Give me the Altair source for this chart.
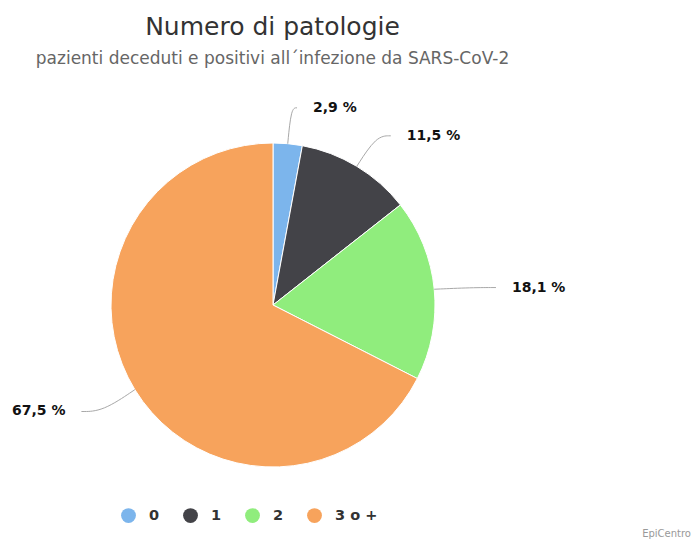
import altair as alt
import pandas as pd

categories = ["0", "1", "2", "3 o +"]
values = [2.9, 11.5, 18.1, 67.5]
colors = ["#7cb5ec", "#434348", "#90ed7d", "#f7a35c"]
title_text = "Numero di patologie"
subtitle_text = "pazienti deceduti e positivi all´infezione da SARS-CoV-2"
credit = ["EpiCentro"]

df = pd.DataFrame({"cat": categories, "val": values, "idx": list(range(len(categories)))})

W, H = 683, 451
CX, CY, R = 265, 217, 162
RB = 200   # radius where label connectors break
FONT = "DejaVu Sans"

base = alt.Chart(df)

pie = base.mark_arc(outerRadius=R, stroke="white", strokeWidth=1).encode(
    theta=alt.Theta("val:Q", stack=True),
    color=alt.Color(
        "cat:N",
        scale=alt.Scale(domain=categories, range=colors),
        legend=alt.Legend(
            title=None, orient="none", legendX=113, legendY=420,
            direction="horizontal", symbolType="circle", symbolSize=220,
            symbolStrokeWidth=0, symbolOpacity=1,
            labelFont=FONT, labelFontSize=14.5, labelFontWeight="bold",
            labelColor="#333333", labelOffset=13, columnPadding=23,
        ),
    ),
    order=alt.Order("idx:Q"),
    x=alt.value(CX),
    y=alt.value(CY),
)

geo = (
    base.transform_joinaggregate(total="sum(val)")
    .transform_window(cum="sum(val)", sort=[alt.SortField("idx")], frame=[None, 0])
    .transform_calculate(mid="(datum.cum - datum.val/2)/datum.total*2*PI")
    .transform_calculate(side="sin(datum.mid) >= 0 ? 1 : -1")
    .transform_calculate(ex=f"{CX} + {R}*sin(datum.mid)")
    .transform_calculate(ey=f"{CY} - {R}*cos(datum.mid)")
    .transform_calculate(bx=f"{CX} + {RB}*sin(datum.mid)")
    .transform_calculate(by=f"{CY} - {RB}*cos(datum.mid) + 2")
    .transform_calculate(lx="datum.bx + datum.side*(20 + 20*abs(sin(datum.mid)))")
    .transform_calculate(tx="datum.lx - datum.side*16")
    .transform_calculate(label="replace(format(datum.val, '.1f'), '.', ',') + ' %'")
)

conn = (
    geo.transform_calculate(k="[0,1,2]")
    .transform_flatten(["k"])
    .transform_calculate(px="datum.k == 0 ? datum.ex : (datum.k == 1 ? datum.bx : datum.tx)")
    .transform_calculate(py="datum.k == 0 ? datum.ey : datum.by")
    .mark_line(interpolate="basis", color="#a8a8a8", strokeWidth=1)
    .encode(
        x=alt.X("px:Q", scale=None),
        y=alt.Y("py:Q", scale=None),
        detail="cat:N",
        order="k:Q",
    )
)

lab_r = geo.transform_filter("datum.side > 0").mark_text(
    align="left", baseline="middle", font=FONT, fontSize=14, fontWeight="bold", color="#111111"
).encode(x=alt.X("lx:Q", scale=None), y=alt.Y("by:Q", scale=None), text="label:N")

lab_l = geo.transform_filter("datum.side < 0").mark_text(
    align="right", baseline="middle", font=FONT, fontSize=14, fontWeight="bold", color="#111111"
).encode(x=alt.X("lx:Q", scale=None), y=alt.Y("by:Q", scale=None), text="label:N")

cred = alt.Chart(pd.DataFrame({"t": credit})).mark_text(
    align="right", baseline="bottom", font=FONT, fontSize=10, color="#999999"
).encode(text="t:N", x=alt.value(W), y=alt.value(H))

chart = (
    alt.layer(pie, conn, lab_r, lab_l, cred)
    .properties(
        width=W,
        height=H,
        autosize=alt.AutoSizeParams(type="none"),
        padding={"left": 0, "top": 80, "right": 0, "bottom": 0},
        title=alt.TitleParams(
            title_text,
            subtitle=subtitle_text,
            font=FONT, fontSize=25, fontWeight="normal", color="#333333",
            subtitleFont=FONT, subtitleFontSize=17, subtitleColor="#666666",
            anchor="middle", frame="group", dx=-77, offset=21, subtitlePadding=11,
        ),
        background="white",
    )
    .configure_view(stroke=None)
)

chart.save("out.html", embed_options={"renderer": "svg", "actions": False})
